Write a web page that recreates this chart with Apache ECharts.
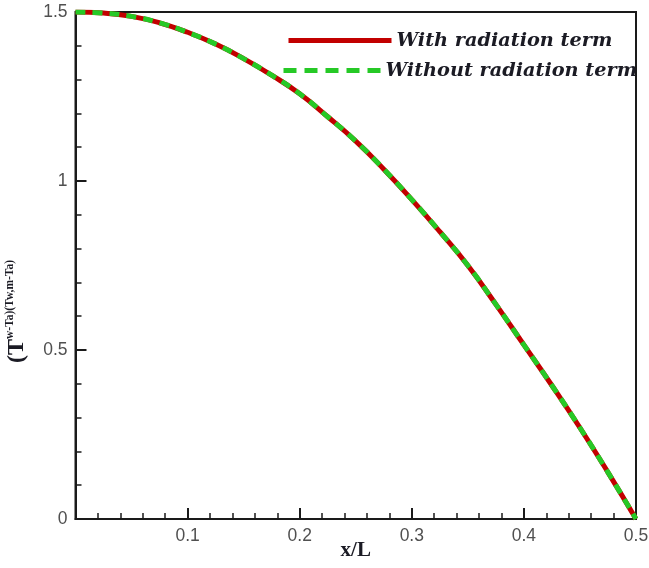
<!DOCTYPE html>
<html>
<head>
<meta charset="utf-8">
<script src="https://cdn.jsdelivr.net/npm/echarts@6/dist/echarts.min.js"></script>
<style>
  html, body { margin: 0; padding: 0; background: #fff; }
  #chart { width: 649px; height: 568px; }
</style>
</head>
<body>
<div id="chart"></div>
<script>
// Dimensionless position along the fin
const xPositions = [0, 0.025, 0.05, 0.075, 0.1, 0.125, 0.15, 0.175, 0.2, 0.225, 0.25,
                    0.275, 0.3, 0.325, 0.35, 0.375, 0.4, 0.425, 0.45, 0.475, 0.5];
// Dimensionless wall temperature, with the radiation term
const withRadiation = [1.500, 1.497, 1.487, 1.468, 1.440, 1.405, 1.362, 1.313, 1.258, 1.190, 1.118,
                       1.035, 0.945, 0.850, 0.750, 0.635, 0.515, 0.395, 0.270, 0.138, 0.000];
// Dimensionless wall temperature, radiation term neglected
const withoutRadiation = [1.500, 1.497, 1.487, 1.468, 1.440, 1.405, 1.362, 1.313, 1.258, 1.190, 1.118,
                          1.035, 0.945, 0.850, 0.750, 0.635, 0.515, 0.395, 0.270, 0.138, 0.000];
const seriesNames = ['With radiation term', 'Without radiation term'];
const xTicks = [0, 0.1, 0.2, 0.3, 0.4, 0.5];
const yTicks = [0, 0.5, 1, 1.5];

const pairs = (xs, ys) => xs.map((x, i) => [x, ys[i]]);

const RED = '#c20000';
const GREEN = '#26c926';
const tickFont = { fontFamily: 'Liberation Sans', fontSize: 17.5, color: '#505050' };
const legendText = {
  fontFamily: 'DejaVu Serif', fontStyle: 'italic', fontWeight: 'bold',
  fontSize: 19.3, color: '#1b1b24'
};
const hiddenMarker = { color: 'rgba(0,0,0,0)', borderColor: 'rgba(0,0,0,0)', borderWidth: 0 };

const chart = echarts.init(document.getElementById('chart'), null, { renderer: 'canvas' });
chart.setOption({
  backgroundColor: '#ffffff',
  animation: false,
  grid: {
    left: 75.5, right: 13, top: 12, bottom: 49,
    containLabel: false, outerBoundsMode: 'none',
    show: true, borderColor: '#1a1a1a', borderWidth: 2, backgroundColor: 'transparent'
  },
  legend: [
    {
      data: [seriesNames[0]], left: 281, top: 26, orient: 'horizontal',
      itemWidth: 103, itemHeight: 20, textStyle: legendText, selectedMode: false,
      itemStyle: hiddenMarker,
      lineStyle: { color: RED, width: 5, type: 'solid' }
    },
    {
      data: [seriesNames[1]], left: 276, top: 56, orient: 'horizontal',
      itemWidth: 97, itemHeight: 20, textStyle: legendText, selectedMode: false,
      itemStyle: hiddenMarker,
      lineStyle: { color: GREEN, width: 5, type: [13, 8] }
    }
  ],
  xAxis: {
    type: 'value',
    min: xTicks[0], max: xTicks[xTicks.length - 1], interval: 0.1,
    name: 'x/L', nameLocation: 'middle', nameGap: 21, nameMoveOverlap: false,
    nameTextStyle: { fontFamily: 'Liberation Serif', fontWeight: 'bold', fontSize: 21, color: '#1b1b24' },
    axisLine: { show: true, onZero: false, lineStyle: { color: '#1a1a1a', width: 2 } },
    axisTick: { show: true, inside: true, length: 11, lineStyle: { color: '#1a1a1a', width: 2 } },
    minorTick: { show: true, splitNumber: 5, length: 6, lineStyle: { color: '#1a1a1a', width: 1.5 } },
    splitLine: { show: false },
    axisLabel: Object.assign({ margin: 8, showMinLabel: false, formatter: v => String(+v.toFixed(2)) }, tickFont)
  },
  yAxis: {
    type: 'value',
    min: yTicks[0], max: yTicks[yTicks.length - 1], interval: 0.5,
    name: '{big|(T}{sub|w-Ta)(Tw,m-Ta)}',
    nameLocation: 'middle', nameRotate: 90, nameGap: 47, nameMoveOverlap: false,
    nameTextStyle: {
      padding: [0, 92, 0, 0],
      rich: {
        big: { fontFamily: 'Liberation Serif', fontWeight: 'bold', fontSize: 24, color: '#1b1b24', lineHeight: 24 },
        sub: { fontFamily: 'Liberation Serif', fontWeight: 'bold', fontSize: 11.5, color: '#1b1b24', verticalAlign: 'top', lineHeight: 13 }
      }
    },
    axisLine: { show: true, onZero: false, lineStyle: { color: '#1a1a1a', width: 2 } },
    axisTick: { show: true, inside: true, length: 11, lineStyle: { color: '#1a1a1a', width: 2 } },
    minorTick: { show: true, splitNumber: 5, length: 6, lineStyle: { color: '#1a1a1a', width: 1.5 } },
    splitLine: { show: false },
    axisLabel: Object.assign({ margin: 8, formatter: v => String(+v.toFixed(2)) }, tickFont)
  },
  series: [
    {
      name: seriesNames[0], type: 'line', data: pairs(xPositions, withRadiation),
      smooth: true, symbol: 'none', showSymbol: false,
      itemStyle: hiddenMarker,
      lineStyle: { color: RED, width: 5, type: 'solid' }, z: 2
    },
    {
      name: seriesNames[1], type: 'line', data: pairs(xPositions, withoutRadiation),
      smooth: true, symbol: 'none', showSymbol: false,
      itemStyle: hiddenMarker,
      lineStyle: { color: GREEN, width: 5, type: [10, 7] }, z: 3
    }
  ]
});
</script>
</body>
</html>
